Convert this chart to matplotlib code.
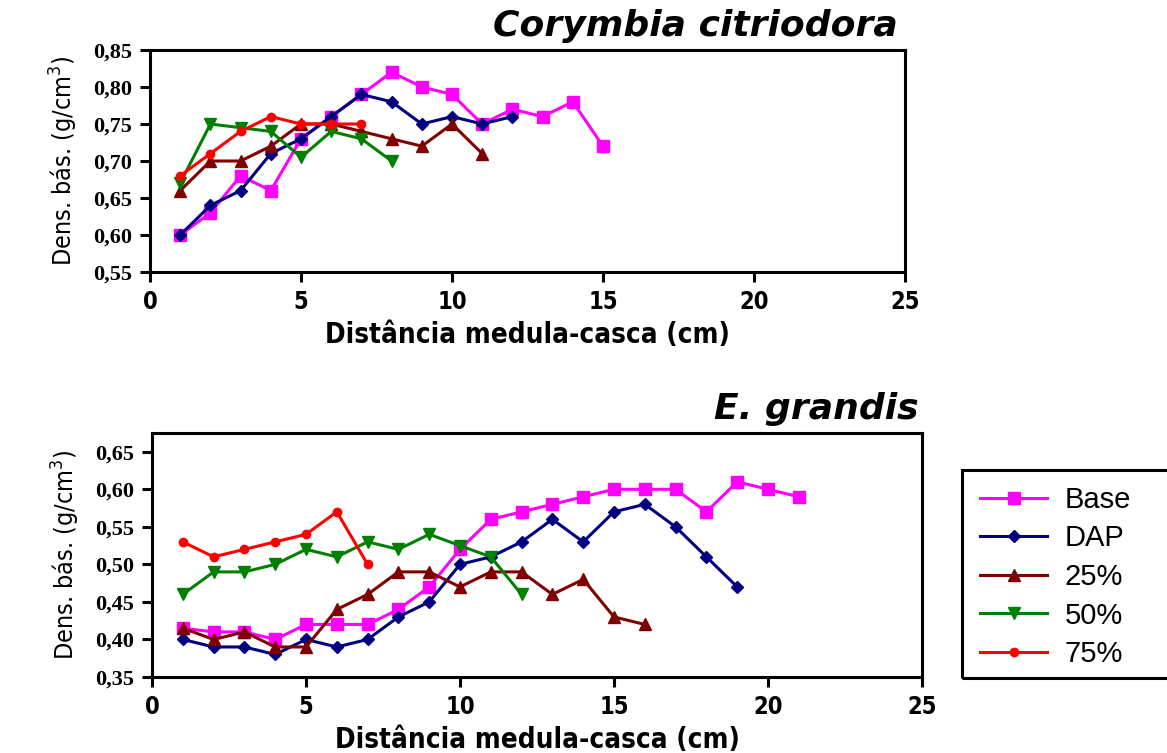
import numpy as np
import matplotlib.pyplot as plt
from matplotlib.ticker import FuncFormatter
from matplotlib.patches import Rectangle

plt.rcParams['mathtext.default'] = 'regular'

# Dados - Corymbia citriodora
cc_base = [0.60, 0.63, 0.68, 0.66, 0.73, 0.76, 0.79, 0.82, 0.80, 0.79, 0.75, 0.77, 0.76, 0.78, 0.72]
cc_dap = [0.60, 0.64, 0.66, 0.71, 0.73, 0.76, 0.79, 0.78, 0.75, 0.76, 0.75, 0.76]
cc_25 = [0.66, 0.70, 0.70, 0.72, 0.75, 0.75, 0.74, 0.73, 0.72, 0.75, 0.71]
cc_50 = [0.67, 0.75, 0.745, 0.74, 0.705, 0.74, 0.73, 0.70]
cc_75 = [0.68, 0.71, 0.74, 0.76, 0.75, 0.75, 0.75]

# Dados - E. grandis
eg_base = [0.415, 0.41, 0.41, 0.40, 0.42, 0.42, 0.42, 0.44, 0.47, 0.52, 0.56,
           0.57, 0.58, 0.59, 0.60, 0.60, 0.60, 0.57, 0.61, 0.60, 0.59]
eg_dap = [0.40, 0.39, 0.39, 0.38, 0.40, 0.39, 0.40, 0.43, 0.45, 0.50, 0.51,
          0.53, 0.56, 0.53, 0.57, 0.58, 0.55, 0.51, 0.47]
eg_25 = [0.415, 0.40, 0.41, 0.39, 0.39, 0.44, 0.46, 0.49, 0.49, 0.47, 0.49,
         0.49, 0.46, 0.48, 0.43, 0.42]
eg_50 = [0.46, 0.49, 0.49, 0.50, 0.52, 0.51, 0.53, 0.52, 0.54, 0.525, 0.51, 0.46]
eg_75 = [0.53, 0.51, 0.52, 0.53, 0.54, 0.57, 0.50]

series_names = ['Base', 'DAP', '25%', '50%', '75%']
x_ticks = [0, 5, 10, 15, 20, 25]
cc_yticks = [0.55, 0.60, 0.65, 0.70, 0.75, 0.80, 0.85]
eg_yticks = [0.35, 0.40, 0.45, 0.50, 0.55, 0.60, 0.65]

# estilo de cada serie (cor, marcador, tamanho)
styles = [('#FF00FF', 's', 8), ('#000080', 'D', 6), ('#800000', '^', 8),
          ('#008000', 'v', 8), ('#FF0000', 'o', 6)]

serif = ['Liberation Serif', 'DejaVu Serif']


def virgula(v, pos):
    return '{0:.2f}'.format(v).replace('.', ',')


def desenha(ax, dados, yticks, ylim, titulo, tx):
    for serie, nome, (cor, mk, ms) in zip(dados, series_names, styles):
        xs = np.arange(1, len(serie) + 1)
        ax.plot(xs, serie, color=cor, marker=mk, markersize=ms, lw=2.2,
                label=nome)
    ax.set_xlim(0, 25)
    ax.set_ylim(*ylim)
    ax.set_xticks(x_ticks)
    ax.set_yticks(yticks)
    ax.yaxis.set_major_formatter(FuncFormatter(virgula))
    for s in ax.spines.values():
        s.set_linewidth(2.2)
    ax.tick_params(direction='out', length=7, width=2.2, pad=6)
    for t in ax.get_xticklabels():
        t.set_family('DejaVu Sans')
        t.set_stretch('condensed')
        t.set_fontweight('bold')
        t.set_fontsize(17)
    for t in ax.get_yticklabels():
        t.set_family(serif)
        t.set_fontweight('bold')
        t.set_fontsize(16)
    ax.set_xlabel(u'Distância medula-casca (cm)', family='DejaVu Sans',
                  stretch='condensed', fontweight='bold', fontsize=20,
                  labelpad=5)
    ax.set_ylabel(u'Dens. bás. (g/cm$^3$)', family='DejaVu Sans',
                  stretch='condensed', fontsize=18, labelpad=9)
    ax.text(tx, 1.03, titulo, transform=ax.transAxes, ha='right',
            va='bottom', fontsize=26, fontweight='heavy', style='italic',
            family='DejaVu Sans')


fig = plt.figure(figsize=(11.67, 7.53), dpi=100)

ax1 = fig.add_axes([150 / 1167, 1 - 272 / 753, 755 / 1167, 222 / 753])
desenha(ax1, [cc_base, cc_dap, cc_25, cc_50, cc_75], cc_yticks,
        (0.55, 0.85), 'Corymbia citriodora', 0.99)

ax2 = fig.add_axes([152 / 1167, 1 - 677 / 753, 770 / 1167, 244 / 753])
desenha(ax2, [eg_base, eg_dap, eg_25, eg_50, eg_75], eg_yticks,
        (0.35, 0.675), 'E. grandis', 0.995)

# legenda fora do grafico
handles, labels = ax2.get_legend_handles_labels()
leg = fig.legend(handles, labels, loc='upper left',
                 bbox_to_anchor=(980 / 1167, 1 - 486 / 753),
                 frameon=False, borderpad=0, borderaxespad=0,
                 handlelength=2.3, handletextpad=0.6, labelspacing=0.36,
                 prop={'family': 'Liberation Sans', 'size': 21})
fig.patches.append(Rectangle((962 / 1167, 1 - 678 / 753), 0.3, 208 / 753,
                             transform=fig.transFigure, fill=False,
                             lw=2.2, edgecolor='black'))

fig.savefig('out.png', dpi=100, facecolor='white')
